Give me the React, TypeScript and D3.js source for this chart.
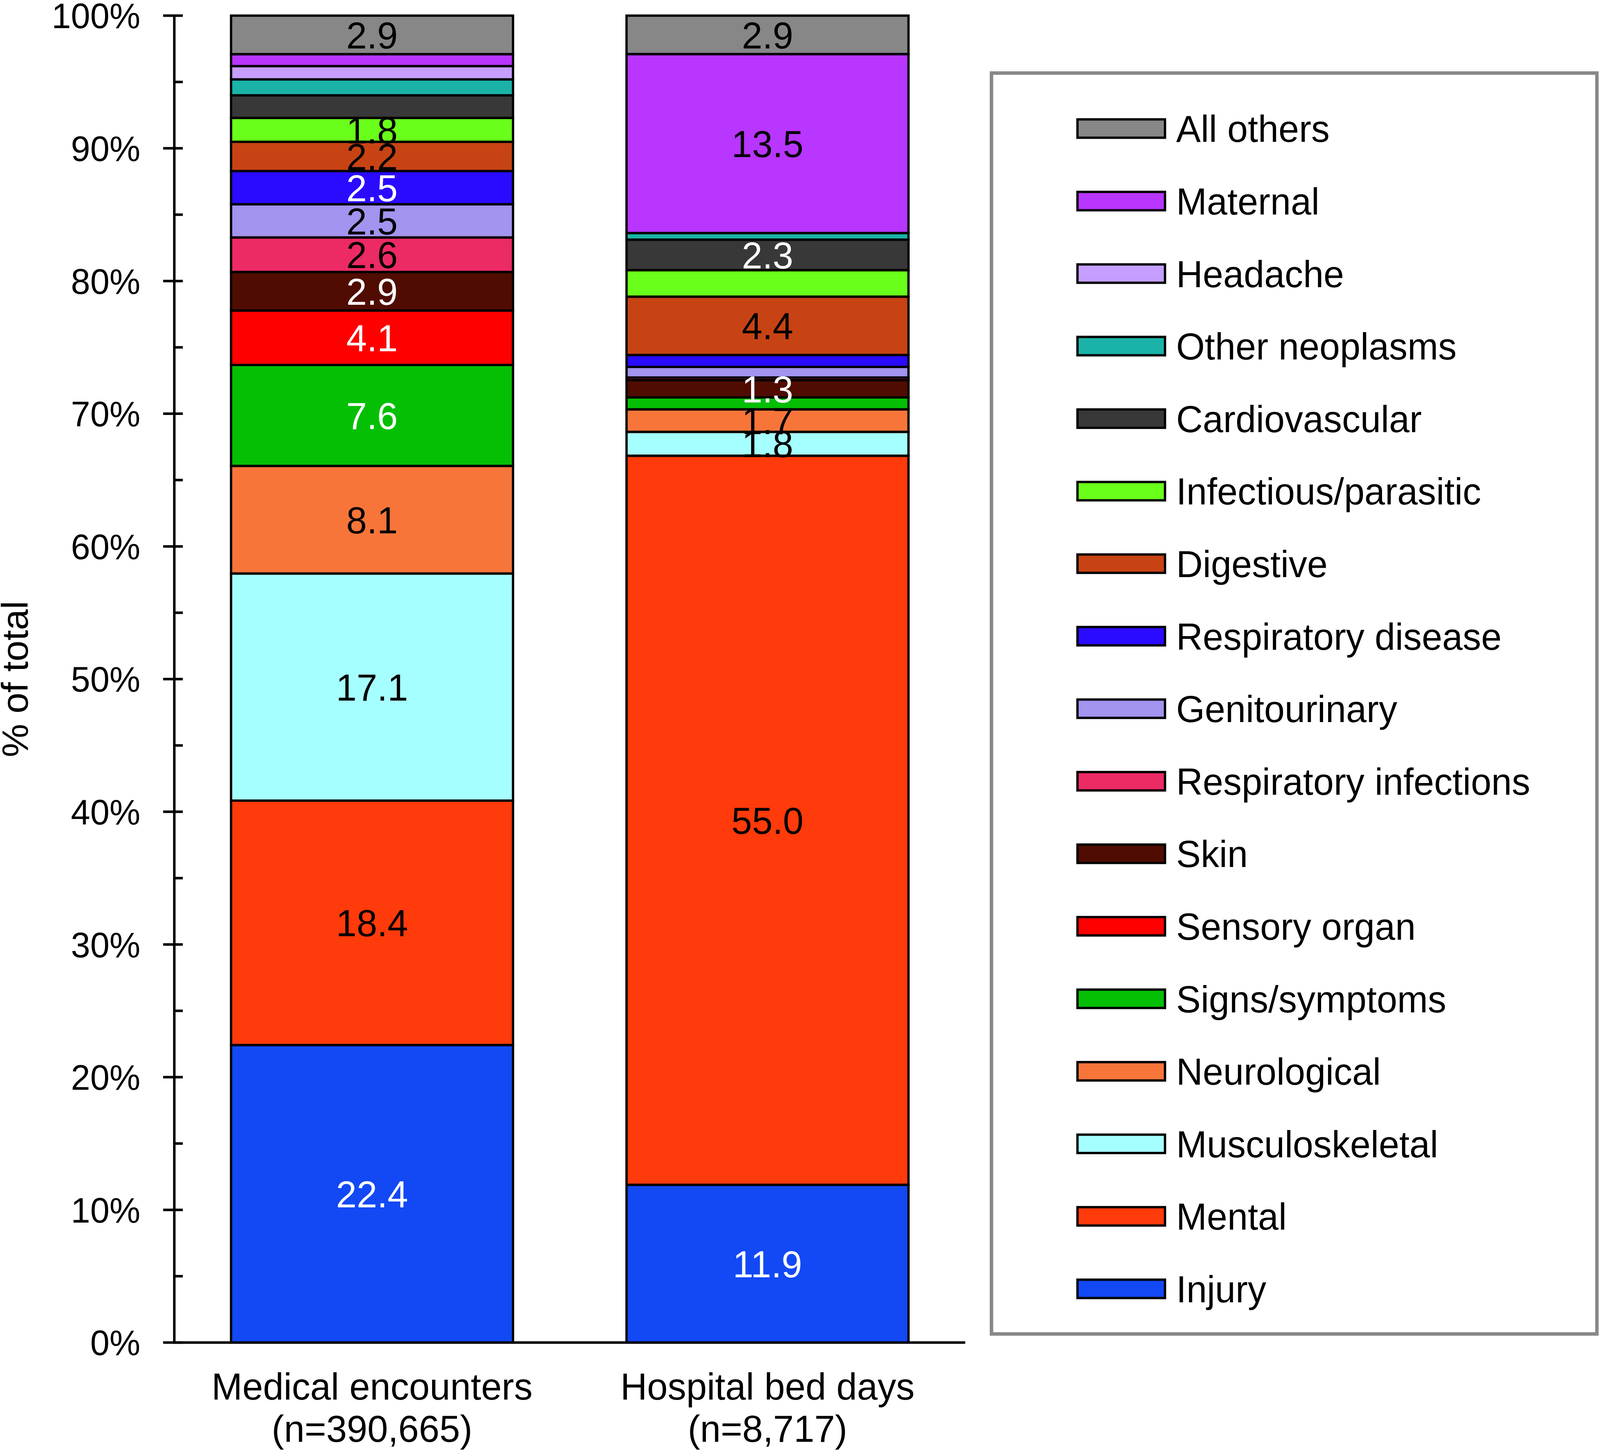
import React, { useEffect } from 'react';
import * as d3 from 'd3';

const categories = ['Medical encounters', 'Hospital bed days'];
const categorySubLabels = ['(n=390,665)', '(n=8,717)'];

// bottom to top stacking order
const seriesNames = [
  'Injury', 'Mental', 'Musculoskeletal', 'Neurological', 'Signs/symptoms',
  'Sensory organ', 'Skin', 'Respiratory infections', 'Genitourinary',
  'Respiratory disease', 'Digestive', 'Infectious/parasitic', 'Cardiovascular',
  'Other neoplasms', 'Headache', 'Maternal', 'All others',
];
const medicalEncounters = [22.4, 18.4, 17.1, 8.1, 7.6, 4.1, 2.9, 2.6, 2.5, 2.5, 2.2, 1.8, 1.7, 1.2, 1.0, 0.9, 2.9];
const hospitalBedDays = [11.9, 55.0, 1.8, 1.7, 0.9, 0.0, 1.3, 0.2, 0.8, 0.9, 4.4, 2.0, 2.3, 0.5, 0.0, 13.5, 2.9];
const seriesColors = [
  '#1249F5', '#FF3A0B', '#A6FFFF', '#F8753A', '#05BF05',
  '#FF0000', '#500C00', '#EC2A64', '#A294EF',
  '#2A0BFF', '#C84314', '#6AFF1A', '#383838',
  '#1BB3A8', '#C59EFF', '#B836FF', '#878787',
];
const labelledMedical = [
  'Injury', 'Mental', 'Musculoskeletal', 'Neurological', 'Signs/symptoms', 'Sensory organ',
  'Skin', 'Respiratory infections', 'Genitourinary', 'Respiratory disease', 'Digestive',
  'Infectious/parasitic', 'All others',
];
const labelledBedDays = [
  'Injury', 'Mental', 'Musculoskeletal', 'Neurological', 'Skin', 'Digestive',
  'Cardiovascular', 'Maternal', 'All others',
];
const whiteLabelSeries = ['Injury', 'Signs/symptoms', 'Sensory organ', 'Skin', 'Respiratory disease', 'Cardiovascular'];
const yMajorTicks = d3.range(0, 1.0001, 0.1);
const yMinorTicks = d3.range(0.05, 1, 0.1);

const W = 4149;
const H = 3711;
const FONT = "'Liberation Sans', Arial, Helvetica, sans-serif";

export default function App() {
  useEffect(() => {
    document.body.style.margin = '0';
    document.body.style.overflow = 'hidden';
  }, []);

  const rows = categories.map((c, ci) => {
    const vals = ci === 0 ? medicalEncounters : hospitalBedDays;
    const r: any = { category: c };
    seriesNames.forEach((s, si) => (r[s] = vals[si]));
    return r;
  });
  const labelled = [labelledMedical, labelledBedDays];

  const stacked = d3.stack<any>().keys(seriesNames).offset(d3.stackOffsetExpand)(rows);

  const plotLeft = 452;
  const plotRight = 2503;
  const plotTop = 40;
  const plotBottom = 3436;

  const x = d3.scaleBand<string>().domain(categories).range([plotLeft, plotRight]).paddingInner(0.287).paddingOuter(0.1435);
  const y = d3.scaleLinear().domain([0, 1]).range([plotBottom, plotTop]);
  const color = d3.scaleOrdinal<string, string>().domain(seriesNames).range(seriesColors);
  const pct = d3.format('.0%');

  const legendItems = seriesNames.slice().reverse();
  const legendTop = 329;
  const legendStep = 185.6;

  return (
    <svg
      viewBox={`0 0 ${W} ${H}`}
      preserveAspectRatio="none"
      style={{ position: 'fixed', left: 0, top: 0, width: '100vw', height: '100vh', display: 'block', background: '#fff' }}
      fontFamily={FONT}
    >
      <rect x={0} y={0} width={W} height={H} fill="#fff" />
      {/* bars */}
      {stacked.map((layer) => (
        <g key={layer.key}>
          {layer.map((d: any, i: number) => {
            const h = y(d[0]) - y(d[1]);
            if (h <= 0) return null;
            return (
              <rect
                key={i}
                x={x(categories[i])}
                y={y(d[1])}
                width={x.bandwidth()}
                height={h}
                fill={color(layer.key)}
                stroke="#000"
                strokeWidth={6}
              />
            );
          })}
        </g>
      ))}
      {/* data labels */}
      {stacked.map((layer) => (
        <g key={'l' + layer.key}>
          {layer.map((d: any, i: number) => {
            if (!labelled[i].includes(layer.key)) return null;
            const raw = rows[i][layer.key] as number;
            const cy = (y(d[0]) + y(d[1])) / 2;
            return (
              <text
                key={i}
                x={(x(categories[i]) as number) + x.bandwidth() / 2}
                y={cy}
                dy="0.36em"
                textAnchor="middle"
                fontSize={96}
                fill={whiteLabelSeries.includes(layer.key) ? '#fff' : '#000'}
              >
                {raw.toFixed(1)}
              </text>
            );
          })}
        </g>
      ))}
      {/* y axis */}
      <line x1={plotLeft} x2={plotLeft} y1={plotTop - 3} y2={plotBottom} stroke="#000" strokeWidth={6.5} />
      {yMajorTicks.map((t) => (
        <g key={'mt' + t}>
          <line x1={plotLeft - 29} x2={plotLeft + 22} y1={y(t)} y2={y(t)} stroke="#000" strokeWidth={6.5} />
          <text x={364} y={y(t)} dy="0.36em" textAnchor="end" fontSize={90} fill="#000">
            {pct(t)}
          </text>
        </g>
      ))}
      {yMinorTicks.map((t) => (
        <line key={'mi' + t} x1={plotLeft} x2={plotLeft + 22} y1={y(t)} y2={y(t)} stroke="#000" strokeWidth={6.5} />
      ))}
      {/* x axis baseline */}
      <line x1={plotLeft - 3} x2={plotRight} y1={plotBottom} y2={plotBottom} stroke="#000" strokeWidth={6.5} />
      {/* category labels */}
      {categories.map((c, i) => {
        const cx = (x(c) as number) + x.bandwidth() / 2;
        return (
          <g key={'c' + c}>
            <text x={cx} y={3582} textAnchor="middle" fontSize={96} fill="#000">{c}</text>
            <text x={cx} y={3690} textAnchor="middle" fontSize={96} fill="#000">{categorySubLabels[i]}</text>
          </g>
        );
      })}
      {/* y title */}
      <text transform={`translate(72, ${(plotTop + plotBottom) / 2}) rotate(-90)`} textAnchor="middle" fontSize={96} fill="#000">
        % of total
      </text>
      {/* legend */}
      <rect x={2571} y={187} width={3570 - 2000} height={3227} fill="#fff" stroke="#888888" strokeWidth={9} />
      {legendItems.map((s, i) => {
        const cy = legendTop + i * legendStep;
        return (
          <g key={'lg' + s}>
            <rect x={2794} y={cy - 23.5} width={227} height={47} fill={color(s)} stroke="#000" strokeWidth={6} />
            <text x={3050} y={cy} dy="0.36em" fontSize={95.5} fill="#000">{s}</text>
          </g>
        );
      })}
    </svg>
  );
}
